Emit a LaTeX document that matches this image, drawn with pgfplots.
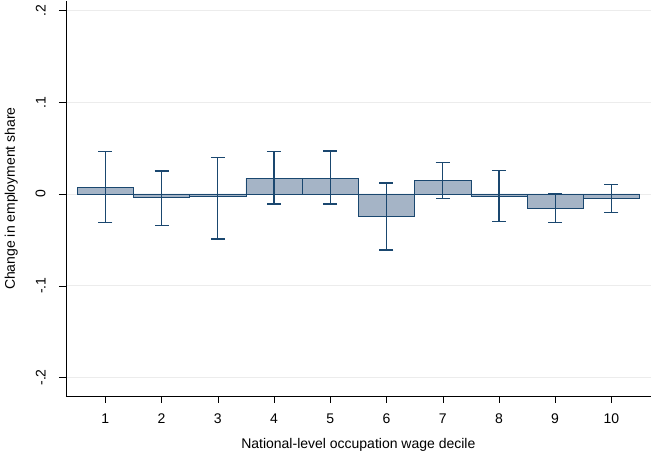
\documentclass[border=0pt]{standalone}
\usepackage{pgfplots}
\pgfplotsset{compat=1.18}
\usepackage{fontspec}
\setmainfont{Liberation Sans}
\definecolor{barf}{RGB}{165,180,198}
\definecolor{bard}{RGB}{26,71,111}
\begin{document}
\begin{tikzpicture}
\begin{axis}[
  scale only axis, width=418pt, height=282pt,
  xmin=0.3, xmax=10.7, ymin=-0.22, ymax=0.21,
  axis x line*=bottom, axis y line*=left,
  xtick={1,...,10}, ytick={-0.2,-0.1,0,0.1,0.2},
  yticklabels={-.2,-.1,0,.1,.2},
  yticklabel style={rotate=90, anchor=south, yshift=6pt},
  xticklabel style={yshift=-4pt},
  /pgf/number format/assume math mode=true,
  ymajorgrids, grid style={gray!15},
  tick style={black}, tick align=outside, major tick length=5pt,
  xlabel={National-level occupation wage decile},
  ylabel={Change in employment share},
  ylabel style={yshift=6pt}, xlabel style={yshift=-4pt},
  label style={font=\normalsize}, tick label style={font=\normalsize},
]
\addplot[ybar, bar width=1, fill=barf, draw=bard] coordinates {
(1,0.007)(2,-0.004)(3,-0.003)(4,0.017)(5,0.017)(6,-0.024)(7,0.015)(8,-0.002)(9,-0.016)(10,-0.005)};
\addplot[draw=none, mark=none,
  error bars/.cd, y dir=both, y explicit,
  error bar style={draw=bard, line width=0.9pt},
  error mark options={rotate=90, mark size=5pt, draw=bard, line width=0.9pt}]
  table[x=x, y=y, y error plus=p, y error minus=m] {
x y p m
1 0.007 0.039 0.038
2 -0.004 0.029 0.030
3 -0.003 0.043 0.046
4 0.017 0.029 0.028
5 0.017 0.030 0.028
6 -0.024 0.036 0.037
7 0.015 0.019 0.020
8 -0.002 0.028 0.028
9 -0.016 0.016 0.015
10 -0.005 0.015 0.015
};
\end{axis}
\end{tikzpicture}
\end{document}
